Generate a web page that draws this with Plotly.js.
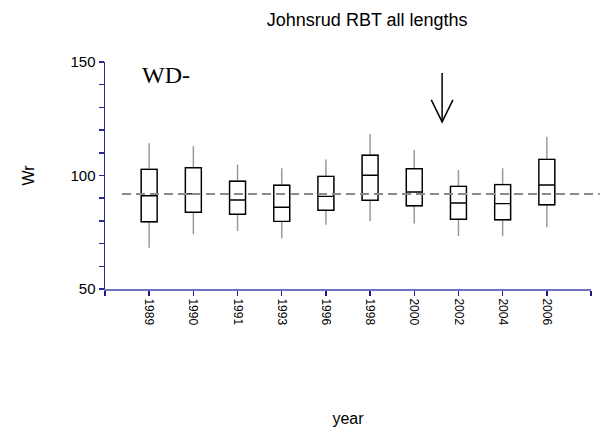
<!DOCTYPE html>
<html>
<head>
<meta charset="utf-8">
<script src="https://cdn.plot.ly/plotly-3.0.1.min.js"></script>
<style>html,body{margin:0;padding:0;background:#fff;}#chart{width:603px;height:436px;}</style>
</head>
<body>
<div id="chart"></div>
<script>
// Data
const years = ['1989','1990','1991','1993','1996','1998','2000','2002','2004','2006'];
const whiskerLow  = [68.2, 74.1, 75.6, 72.2, 78.3, 80.0, 78.9, 73.3, 73.2, 77.2];
const q1          = [79.6, 83.8, 82.9, 79.8, 84.7, 89.1, 86.7, 80.7, 80.5, 87.1];
const medians     = [91.1, 91.9, 89.2, 86.0, 90.8, 100.1, 92.7, 87.9, 87.6, 95.8];
const q3          = [102.7, 103.4, 97.5, 95.7, 99.6, 108.9, 103.0, 95.2, 96.0, 107.1];
const whiskerHigh = [114.2, 113.0, 104.8, 103.2, 107.1, 118.3, 111.2, 102.4, 103.2, 117.1];
const referenceWr = 91.8;
const yTickVals = [50, 100, 150];
const yTickText = ['50', '100', '150'];

const xPos = years.map((_, i) => i);
const font = 'Liberation Sans, Arial, sans-serif';

const whiskerTrace = {
  type: 'box', x: xPos, q1: q1, median: medians, q3: q3,
  lowerfence: whiskerLow, upperfence: whiskerHigh,
  width: 0.36, whiskerwidth: 0, boxpoints: false,
  line: {color: '#9a9a9a', width: 1.5}, fillcolor: 'rgba(255,255,255,0)',
  hoverinfo: 'skip', showlegend: false
};
const boxTrace = {
  type: 'box', x: xPos, q1: q1, median: medians, q3: q3,
  lowerfence: q1, upperfence: q3,
  width: 0.36, whiskerwidth: 0, boxpoints: false,
  line: {color: '#000000', width: 1.4}, fillcolor: '#ffffff',
  hoverinfo: 'skip', showlegend: false
};

const xTickVals = [-1].concat(xPos, [years.length]);
const xTickText = [''].concat(years, ['']);

const arrowX = 6.63, arrowTop = 145.2, arrowTip = 123.6, wingY = 133.3, wingDX = 0.245;

const layout = {
  width: 603, height: 436,
  margin: {l: 105, r: 12, t: 62, b: 147},
  paper_bgcolor: '#ffffff', plot_bgcolor: '#ffffff',
  font: {family: font, color: '#000'},
  boxmode: 'overlay',
  title: {text: 'Johnsrud RBT all lengths', font: {family: font, size: 18, color: '#000'},
          x: 0.609, xanchor: 'center', y: 0.954, yanchor: 'middle'},
  xaxis: {
    range: [-1, years.length], tickmode: 'array', tickvals: xTickVals, ticktext: xTickText,
    tickangle: 90, tickfont: {family: font, size: 12, color: '#000'},
    ticks: 'outside', ticklen: 5, tickwidth: 1.5, tickcolor: '#1a1a8c',
    showline: true, linecolor: '#7272c4', linewidth: 2,
    showgrid: false, zeroline: false, automargin: false, fixedrange: true,
    title: {text: 'year', font: {family: font, size: 16, color: '#000'}, standoff: 88}
  },
  yaxis: {
    range: [50, 150], tickmode: 'array', tickvals: yTickVals, ticktext: yTickText,
    tickfont: {family: font, size: 15, color: '#000'},
    ticks: 'outside', ticklen: 5, tickwidth: 1.5, tickcolor: '#2a2a96',
    minor: {tickmode: 'linear', tick0: 50, dtick: 10, ticks: 'outside', ticklen: 5, tickwidth: 1.5, tickcolor: '#2a2a96', showgrid: false},
    showline: true, linecolor: '#2a2a96', linewidth: 1.5,
    showgrid: false, zeroline: false, automargin: false, fixedrange: true,
    title: {text: 'Wr', font: {family: font, size: 16, color: '#000'}, standoff: 32}
  },
  shapes: [
    {type: 'line', xref: 'paper', yref: 'y', x0: 0.035, x1: 1.018, y0: referenceWr, y1: referenceWr,
     line: {color: '#8a8a8a', width: 2, dash: '9px,5px'}, layer: 'above'},
    {type: 'line', xref: 'x', yref: 'y', x0: arrowX, x1: arrowX, y0: arrowTop, y1: arrowTip,
     line: {color: '#000', width: 1.5}},
    {type: 'path', xref: 'x', yref: 'y',
     path: 'M ' + (arrowX - wingDX) + ' ' + wingY + ' L ' + arrowX + ' ' + arrowTip + ' L ' + (arrowX + wingDX) + ' ' + wingY,
     line: {color: '#000', width: 1.5}}
  ],
  annotations: [
    {text: 'WD-', xref: 'x', yref: 'y', x: 0.39, y: 144.3, showarrow: false,
     xanchor: 'center', yanchor: 'middle',
     font: {family: 'Liberation Serif, Times New Roman, serif', size: 24, color: '#000'}}
  ]
};

Plotly.newPlot('chart', [whiskerTrace, boxTrace], layout, {staticPlot: true, displayModeBar: false});
</script>
</body>
</html>
